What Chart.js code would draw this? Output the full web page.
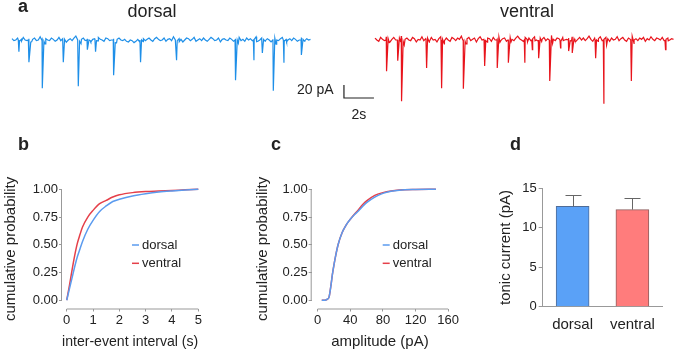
<!DOCTYPE html>
<html>
<head>
<meta charset="utf-8">
<style>
body { margin: 0; background: #fff; font-family: Arial, "Liberation Sans", sans-serif; color: #222; }
#fig { position: relative; width: 675px; height: 353px; overflow: hidden; }
canvas, .t { position: absolute; }
.t { line-height: 1; white-space: nowrap; }
.L { font-weight: bold; font-size: 18px; }
</style>
</head>
<body>
<div id="fig">
	<canvas id="_a" width="675" height="120" style="left:0;top:0"></canvas>
	<canvas id="_b" width="230" height="223" style="left:0;top:130px"></canvas>
	<canvas id="_c" width="230" height="223" style="left:230px;top:130px"></canvas>
	<canvas id="_d" width="215" height="223" style="left:460px;top:130px"></canvas>

	<div class="t L" style="left:18px;top:-3px">a</div>
	<div class="t" style="left:152px;top:2px;font-size:18px;transform:translateX(-50%)">dorsal</div>
	<div class="t" style="left:527px;top:2px;font-size:18px;transform:translateX(-50%)">ventral</div>
	<div class="t" style="left:297px;top:81.5px;font-size:14px">20 pA</div>
	<div class="t" style="left:351.5px;top:106.5px;font-size:14px">2s</div>
	<div class="t L" style="left:18px;top:135px">b</div>
	<div class="t L" style="left:271px;top:135px">c</div>
	<div class="t L" style="left:510px;top:135px">d</div>
</div>

<script src="https://cdn.jsdelivr.net/npm/chart.js/dist/chart.umd.min.js"></script>
<script>
// a: event times (s from trace start) and amplitudes (pA)
var dorsalEvents = [0.42, 1.09, 1.98, 3.38, 4.38, 5.0, 5.53, 6.75, 8.53, 10.93, 14.87, 16.09, 16.65, 17.38, 18.09, 19.27];
var dorsalAmps   = [18, 34, 74, 34, 71, 15, 18, 54, 34, 31, 62, 31, 20, 78, 35, 23];
var ventralEvents = [0.73, 1.49, 1.73, 3.4, 4.4, 5.85, 7.27, 8.11, 8.85, 9.95, 10.45, 10.89, 11.62, 12.33, 12.89, 13.11, 14.67, 15.22, 17.05, 19.33];
var ventralAmps   = [48, 32, 94, 43, 74, 75, 40, 43, 35, 35, 15, 28, 63, 12, 17, 20, 28, 98, 63, 15];
// baseline noise (pA)
var dorsalNoise = [
	2,-1,0,3,-2,1,4,0,-1,2,-3,1,3,-1,0,5,1,-2,2,0,
	-1,3,1,-2,0,4,-1,2,1,-3,0,2,-1,3,6,0,-2,1,3,-1,
	2,0,-3,1,2,-1,4,1,0,-2,3,2,-1,0,2,-4,1,3,0,-1,
	1,-2,-3,0,-1,-4,-2,1,-3,0,2,-1,1,3,0,-2,2,4,1,-1,
	0,3,-2,1,2,-1,5,0,-1,2,1,-3,0,3,2,-1,1,4,-2,0,
	2,-1,3,0,-2,1,4,2,-1,0,3,-3,1,2,0,-1,3,1,-2,2,
	0,4,-1,1,-2,3,0,2,-1,1,5,-2,0,3,1,-1,2,0,-3,1,
	3,0,-1,2,4,-2,1,0,2,-1,3,1,-2,0,4,1,-1,2,0,1];
var ventralNoise = [
	3,0,-2,4,1,-1,5,2,-3,1,4,0,-1,3,6,-2,1,3,0,-1,
	4,2,-3,1,0,5,-1,2,3,-2,4,0,1,-3,2,5,1,-1,3,0,
	-2,4,2,-1,3,1,6,0,-2,2,4,-1,1,3,-3,2,5,0,1,-1,
	3,2,-2,4,0,1,5,-1,2,3,-2,0,4,1,-1,3,6,2,0,-2,
	4,1,3,-1,2,5,0,-2,3,1,4,-1,2,0,7,1,-1,3,2,-2,
	4,0,1,3,-1,5,2,-2,1,4,0,3,-1,2,6,1,-2,3,0,2,
	5,-1,1,4,2,-2,3,0,1,5,-1,2,4,0,-2,3,1,6,0,2,
	-1,3,1,4,-2,2,0,5,1,-1,3,2,0,4,-1,1,3,0,2,1];
var traceLength = 19.9;   // s
var scaleBarPA = 20, scaleBarS = 2;

// b: inter-event interval cumulative
var iei        = [0, 0.1, 0.2, 0.3, 0.4, 0.5, 0.6, 0.8, 1, 1.25, 1.5, 1.75, 2, 2.5, 3, 3.5, 4, 4.5, 5];
var ieiDorsal  = [0, 0.1, 0.2, 0.3, 0.39, 0.46, 0.53, 0.64, 0.72, 0.8, 0.85, 0.89, 0.91, 0.94, 0.96, 0.975, 0.985, 0.993, 1];
var ieiVentral = [0, 0.13, 0.27, 0.4, 0.51, 0.59, 0.66, 0.75, 0.81, 0.87, 0.9, 0.93, 0.95, 0.97, 0.98, 0.985, 0.99, 0.995, 1];
var ieiTicks   = [0, 1, 2, 3, 4, 5];

// c: amplitude cumulative
var amp        = [5, 10, 12, 14, 16, 18, 20, 22, 25, 30, 35, 40, 45, 50, 55, 60, 70, 80, 90, 100, 120, 145];
var ampDorsal  = [0, 0.003, 0.01, 0.03, 0.12, 0.23, 0.32, 0.4, 0.5, 0.61, 0.68, 0.73, 0.77, 0.805, 0.845, 0.88, 0.93, 0.963, 0.982, 0.992, 0.998, 1];
var ampVentral = [0, 0.003, 0.01, 0.03, 0.12, 0.23, 0.32, 0.4, 0.5, 0.61, 0.68, 0.73, 0.775, 0.815, 0.86, 0.895, 0.945, 0.97, 0.985, 0.993, 0.998, 1];
var ampTicks   = [0, 40, 80, 120, 160];

var probTicks  = [0, 0.25, 0.5, 0.75, 1];

// d: tonic current
var groups   = ['dorsal', 'ventral'];
var tonic    = [12.7, 12.3];
var tonicSem = [1.5, 1.45];

Chart.defaults.font.family = 'Arial, "Liberation Sans", sans-serif';
Chart.defaults.color = '#222';

function trace(t0, noise, times, amps) {
	var pts = noise.map((n, i) => ({ x: t0 + i * traceLength / (noise.length - 1), y: n }));
	times.forEach((t, i) => {
		pts.push({ x: t0 + t, y: 0 }, { x: t0 + t + 0.04, y: -amps[i] }, { x: t0 + t + 0.22, y: -amps[i] * 0.08 });
	});
	return pts.sort((a, b) => a.x - b.x);
}
function xy(xs, ys) { return xs.map((x, i) => ({ x: x, y: ys[i] })); }
function fixedTicks(vals) { return s => { s.ticks = vals.map(v => ({ value: v })); }; }

// scale bar corner (s, pA) in panel a
var barX = 22.93, barY = -89.2;
var scaleBar = [{ x: barX, y: barY + scaleBarPA }, { x: barX, y: barY }, { x: barX + scaleBarS, y: barY }];

var noUi = { legend: { display: false }, tooltip: { enabled: false } };

new Chart(_a, {
	type: 'line',
	data: {
		datasets: [
			{ data: trace(0.8, dorsalNoise, dorsalEvents, dorsalAmps), borderColor: '#1e8fe8', borderWidth: 1.2, pointRadius: 0 },
			{ data: trace(25, ventralNoise, ventralEvents, ventralAmps), borderColor: '#e8141c', borderWidth: 1.2, pointRadius: 0 },
			{ data: scaleBar, borderColor: '#222', borderWidth: 1.2, pointRadius: 0 }
		]
	},
	options: {
		responsive: false, animation: false, events: [],
		layout: { padding: 0 },
		plugins: noUi,
		elements: { line: { tension: 0 } },
		scales: {
			x: { type: 'linear', display: false, min: 0, max: 45 },
			y: { display: false, min: -123, max: 61.5 }
		}
	}
});

// R-style detached axis lines spanning first..last tick
var rAxes = { id: 'rAxes', afterDraw(c) {
	var ctx = c.ctx, x = c.scales.x, y = c.scales.y, xt = x.ticks, yt = y.ticks;
	ctx.save();
	ctx.strokeStyle = '#999'; ctx.lineWidth = 1;
	ctx.beginPath();
	ctx.moveTo(x.getPixelForValue(xt[0].value), x.top + 0.5);
	ctx.lineTo(x.getPixelForValue(xt[xt.length - 1].value), x.top + 0.5);
	ctx.moveTo(y.right - 0.5, y.getPixelForValue(yt[0].value));
	ctx.lineTo(y.right - 0.5, y.getPixelForValue(yt[yt.length - 1].value));
	ctx.stroke();
	ctx.restore();
}};
var inLegend = { id: 'inLegend', afterDraw(c, args, o) {
	var ctx = c.ctx;
	ctx.save();
	ctx.font = '13px Arial, "Liberation Sans", sans-serif';
	ctx.textBaseline = 'middle';
	c.data.datasets.forEach((d, i) => {
		var yy = o.y + i * o.dy;
		ctx.strokeStyle = d.borderColor; ctx.lineWidth = 1.5;
		ctx.beginPath(); ctx.moveTo(o.x, yy); ctx.lineTo(o.x + 7, yy); ctx.stroke();
		ctx.fillStyle = '#222';
		ctx.fillText(d.label, o.x + 10, yy);
	});
	ctx.restore();
}};

function cdfChart(el, xs, yd, yv, xmin, xmax, xTicks, yw, padL, padR, xTitle, legX) {
	return new Chart(el, {
		type: 'line',
		data: {
			datasets: [
				{ label: 'dorsal', data: xy(xs, yd), borderColor: '#5b9bef', borderWidth: 1.5, pointRadius: 0, clip: false },
				{ label: 'ventral', data: xy(xs, yv), borderColor: '#e5404a', borderWidth: 1.5, pointRadius: 0, clip: false }
			]
		},
		options: {
			responsive: false, animation: false, events: [],
			layout: { padding: { left: padL, right: padR, top: 59.3, bottom: 0 } },
			plugins: Object.assign({ inLegend: { x: legX, y: 115, dy: 18.3 } }, noUi),
			elements: { line: { cubicInterpolationMode: 'monotone' } },
			scales: {
				x: {
					type: 'linear', bounds: 'data', min: xmin, max: xmax,
					afterBuildTicks: fixedTicks(xTicks),
					ticks: { font: { size: 13 }, padding: 1, maxRotation: 0 },
					grid: { drawOnChartArea: false, tickLength: 3, color: '#999' },
					border: { display: false },
					title: { display: true, text: xTitle, font: { size: 15 }, padding: { top: 0, bottom: 2 } },
					afterFit(s) { s.height = 44.5; }
				},
				y: {
					type: 'linear', bounds: 'data', min: -0.0745, max: 1,
					afterBuildTicks: fixedTicks(probTicks),
					ticks: { font: { size: 13 }, padding: 1, callback: v => v.toFixed(2) },
					grid: { drawOnChartArea: false, tickLength: 3, color: '#999' },
					border: { display: false },
					title: { display: true, text: 'cumulative probability', font: { size: 15 }, padding: { top: 2, bottom: 0 } },
					afterFit(s) { s.width = yw; }
				}
			}
		},
		plugins: [rAxes, inLegend]
	});
}

cdfChart(_b, iei, ieiDorsal, ieiVentral, -0.18, 5, ieiTicks, 62, 0, 31.7, 'inter-event interval (s)', 132);
cdfChart(_c, amp, ampDorsal, ampVentral, -7.35, 160, ampTicks, 59.7, 22, 11.7, 'amplitude (pA)', 152.7);

var errBars = { id: 'errBars', afterDatasetsDraw(c) {
	var ctx = c.ctx, meta = c.getDatasetMeta(0), y = c.scales.y;
	ctx.save();
	ctx.strokeStyle = '#666'; ctx.lineWidth = 1;
	ctx.beginPath();
	meta.data.forEach((bar, i) => {
		var x = Math.round(bar.x) + 0.5;
		var y0 = y.getPixelForValue(tonic[i]), y1 = Math.round(y.getPixelForValue(tonic[i] + tonicSem[i])) + 0.5;
		ctx.moveTo(x, y0); ctx.lineTo(x, y1);
		ctx.moveTo(x - 8, y1); ctx.lineTo(x + 8, y1);
	});
	ctx.stroke();
	ctx.restore();
}};

new Chart(_d, {
	type: 'bar',
	data: {
		labels: groups,
		datasets: [{
			data: tonic,
			backgroundColor: ['#5aa1f7', '#ff7c7c'],
			borderColor: ['#4f6c97', '#8e5f5f'],
			borderWidth: 1,
			barThickness: 33
		}]
	},
	options: {
		responsive: false, animation: false, events: [],
		layout: { padding: { left: 35, right: 12.7, top: 58.3, bottom: 0 } },
		plugins: noUi,
		scales: {
			x: {
				grid: { display: false, drawTicks: false },
				border: { display: true, color: '#999' },
				ticks: { font: { size: 15 }, padding: 9 },
				afterFit(s) { s.height = 46.3; }
			},
			y: {
				min: 0, max: 15,
				ticks: { stepSize: 5, font: { size: 13 }, padding: 2 },
				grid: { drawOnChartArea: false, tickLength: 4, color: '#999' },
				border: { color: '#999' },
				title: { display: true, text: 'tonic current (pA)', font: { size: 15 }, padding: { top: 2, bottom: 0 } },
				afterFit(s) { s.width = 47.7; }
			}
		}
	},
	plugins: [errBars]
});
</script>
</body>
</html>
